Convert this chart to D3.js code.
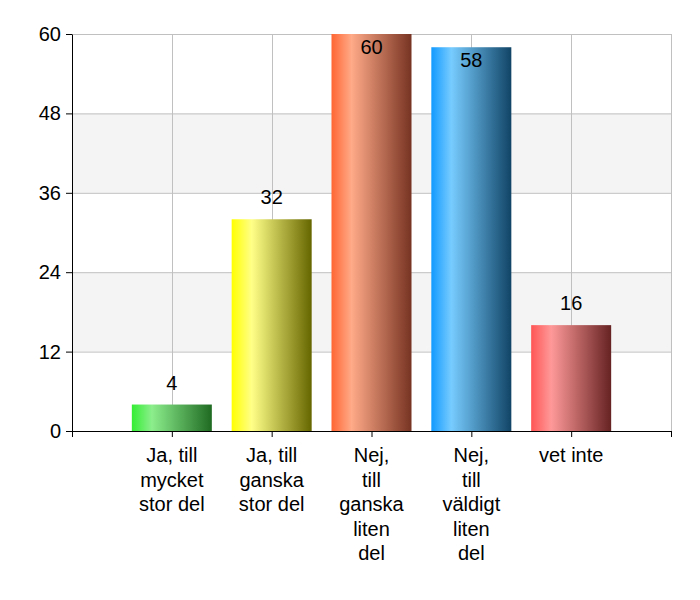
<!DOCTYPE html>
<html>
<head>
<meta charset="utf-8">
<script src="https://cdn.jsdelivr.net/npm/d3@7"></script>
<style>
  body { margin: 0; background: #fff; }
  text { font-family: "Liberation Sans", Arial, sans-serif; fill: #000; }
</style>
</head>
<body>
<script>
const width = 700;
const height = 600;
const margin = {"left":72,"top":34,"right":29,"bottom":169};

// data
const categories = ["Ja, till mycket stor del", "Ja, till ganska stor del", "Nej, till ganska liten del", "Nej, till väldigt liten del", "vet inte"];
const labelLines = [
  ["Ja, till", "mycket", "stor del"],
  ["Ja, till", "ganska", "stor del"],
  ["Nej,", "till", "ganska", "liten", "del"],
  ["Nej,", "till", "väldigt", "liten", "del"],
  ["vet inte"]
];
const values = [4, 32, 60, 58, 16];
const yTicks = [0, 12, 24, 36, 48, 60];
// gradient stops per bar: base, light, dark
const barColors = [
  ["#33ee33", "#8cee8c", "#1f6a22"],
  ["#ffff00", "#ffff88", "#666600"],
  ["#ff6633", "#ffaa88", "#773322"],
  ["#1199ff", "#77ccff", "#114466"],
  ["#ff5555", "#ff9999", "#662222"]
];

const svg = d3.select("body").append("svg").attr("width",width).attr("height",height);

const xScale = d3.scalePoint()
  .domain(["_start", ...categories, "_end"])
  .range([margin.left, width-margin.right]);

const yScale = d3.scaleLinear().domain([0,60])
  .range([height-margin.bottom, margin.top]);

const defs = svg.append("defs");
barColors.forEach((c,i)=>{
  const g = defs.append("linearGradient").attr("id","grad"+i)
    .attr("x1","0%").attr("x2","100%").attr("y1","0%").attr("y2","0%");
  g.append("stop").attr("offset","0%").attr("stop-color",c[0]);
  g.append("stop").attr("offset","25%").attr("stop-color",c[1]);
  g.append("stop").attr("offset","100%").attr("stop-color",c[2]);
});

// alternating bands
const bands = [[12,24],[36,48]];
svg.append("g").selectAll("rect").data(bands).enter().append("rect")
  .attr("x", margin.left)
  .attr("y", d=>yScale(d[1]))
  .attr("width", xScale("_end")-margin.left)
  .attr("height", d=>yScale(d[0])-yScale(d[1]))
  .attr("fill","#f4f4f4");

// grid
const grid = svg.append("g").attr("stroke","#c0c0c0").attr("stroke-width",1);
grid.selectAll(".h").data(yTicks.slice(1)).enter().append("line")
  .attr("x1", margin.left).attr("x2", xScale("_end"))
  .attr("y1", d=>yScale(d)+0.5).attr("y2", d=>yScale(d)+0.5);
grid.selectAll(".v").data([...categories, "_end"]).enter().append("line")
  .attr("x1", d=>Math.round(xScale(d))+0.5).attr("x2", d=>Math.round(xScale(d))+0.5)
  .attr("y1", yScale(60)).attr("y2", yScale(0));

// bars
const barWidth = 80;
svg.append("g").selectAll("rect").data(values).enter().append("rect")
  .attr("x",(d,i)=>xScale(categories[i])-barWidth/2)
  .attr("y",d=>yScale(d))
  .attr("width",barWidth)
  .attr("height",d=>yScale(0)-yScale(d))
  .attr("fill",(d,i)=>`url(#grad${i})`);

// value labels
svg.append("g").selectAll("text").data(values).enter().append("text")
  .attr("x",(d,i)=>xScale(categories[i]))
  .attr("y",d=> yScale(d) - 15 < margin.top + 14 ? yScale(d)+20 : yScale(d)-15)
  .attr("text-anchor","middle")
  .style("font-size","20px")
  .text(d=>d);

// axes
const yAxis = d3.axisLeft(yScale).tickValues(yTicks).tickSize(6).tickSizeOuter(0).tickPadding(5);
const gy = svg.append("g").attr("transform",`translate(${margin.left},0)`).call(yAxis);
gy.selectAll("text").style("font-size","20px").attr("font-family",null);

const xAxis = d3.axisBottom(xScale).tickSize(6).tickSizeOuter(0).tickFormat("");
const gx = svg.append("g").attr("transform",`translate(0,${height-margin.bottom})`).call(xAxis);

[gx, gy].forEach(g=>{
  g.select(".domain").attr("stroke","#000");
  g.selectAll(".tick line").attr("stroke","#000");
});

// category labels
const catG = svg.append("g").selectAll("text").data(labelLines).enter().append("text")
  .attr("text-anchor","middle")
  .style("font-size","20px")
  .attr("x",(d,i)=>xScale(categories[i]))
  .attr("y",height-margin.bottom+31);
catG.selectAll("tspan").data(d=>d).enter().append("tspan")
  .attr("x",function(){ return d3.select(this.parentNode).attr("x"); })
  .attr("dy",(d,i)=>i===0 ? 0 : 24.5)
  .text(d=>d);
</script>
</body>
</html>
